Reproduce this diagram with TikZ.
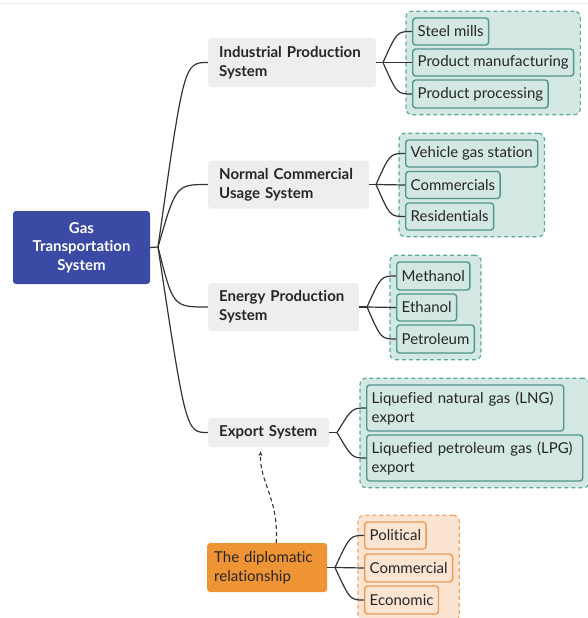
\documentclass[tikz,border=0pt]{standalone}
\usepackage{fontspec}
\setmainfont{Lato}[Ligatures=NoCommon]
\usetikzlibrary{fit,backgrounds,arrows.meta,calc}
\definecolor{rootblue}{HTML}{3B4BA5}
\definecolor{graybox}{HTML}{EEEEEE}
\definecolor{textdark}{HTML}{262626}
\definecolor{tealfill}{HTML}{D3E7E3}
\definecolor{tealline}{HTML}{4E978C}
\definecolor{tealdash}{HTML}{5BAA9E}
\definecolor{orfill}{HTML}{FCE4D2}
\definecolor{orline}{HTML}{EE9A52}
\definecolor{ordash}{HTML}{F0A468}
\definecolor{orbox}{HTML}{EE9434}
\definecolor{linec}{HTML}{333333}
\definecolor{topline}{HTML}{EDEDED}
\begin{document}
\begin{tikzpicture}[x=1pt,y=-1pt,
  rootbox/.style={fill=rootblue, rounded corners=3pt, text=white, align=center, inner xsep=5pt, inner ysep=0pt, font=\bfseries\fontsize{15}{18.5}\selectfont},
  mainbox/.style={fill=graybox, rounded corners=3pt, anchor=west, inner xsep=11pt, inner ysep=0pt, align=left, text=textdark, font=\bfseries\fontsize{15}{19}\selectfont},
  dipbox/.style={fill=orbox, rounded corners=3pt, anchor=west, inner xsep=7pt, inner ysep=0pt, align=left, text=textdark, font=\fontsize{15}{19}\selectfont},
  leaf/.style={draw=tealline, line width=1.4pt, fill=tealfill, rounded corners=3pt, anchor=west, inner xsep=5pt, inner ysep=0pt, align=left, text=textdark, font=\fontsize{15}{19}\selectfont},
  oleaf/.style={leaf, draw=orline, fill=orfill},
  tgroup/.style={draw=tealdash, fill=tealfill, line width=1.2pt, dash pattern=on 4pt off 3pt, rounded corners=6pt, inner sep=6pt},
  ogroup/.style={tgroup, draw=ordash, fill=orfill},
  conn/.style={draw=linec, line width=1.2pt},
  rel/.style={draw=linec, line width=1.1pt, dash pattern=on 4pt off 3pt, -{Stealth[length=5pt,width=4pt]}}
]
\useasboundingbox (0,0) rectangle (588,618);
\draw[topline, line width=1pt] (0,4) -- (588,4);

% main nodes
\node[rootbox, text width=127pt, minimum width=137pt, minimum height=73pt] (root) at (81.5,247.5) {Gas\\Transportation\\System};
\node[mainbox, text width=146pt, minimum height=49pt] (ind) at (208,62.5) {Industrial Production\\System};
\node[mainbox, text width=139pt, minimum height=48pt] (ncu) at (208,184.5) {Normal Commercial\\Usage System};
\node[mainbox, text width=129pt, minimum height=48pt] (ene) at (208,307) {Energy Production\\System};
\node[mainbox, text width=99pt, minimum height=29pt] (exp) at (208,432.5) {Export System};
\node[dipbox, text width=106pt, minimum height=49pt] (dip) at (207,567.5) {The diplomatic\\relationship};

% leaves
\node[leaf, minimum height=27pt] (steel) at (412,31.5) {Steel mills};
\node[leaf, minimum height=27pt] (pman) at (412,62.5) {Product manufacturing};
\node[leaf, minimum height=28pt] (pproc) at (412,94) {Product processing};

\node[leaf, minimum height=27pt] (vgs) at (405,153.5) {Vehicle gas station};
\node[leaf, minimum height=27pt] (comm) at (405,185) {Commercials};
\node[leaf, minimum height=27pt] (resi) at (405,216.5) {Residentials};

\node[leaf, minimum height=28pt] (meth) at (396,276) {Methanol};
\node[leaf, minimum height=27pt] (eth) at (396,307.5) {Ethanol};
\node[leaf, minimum height=28pt] (petr) at (396,339) {Petroleum};

\node[leaf, text width=187pt, minimum height=46pt] (lng) at (366,408) {Liquefied natural gas (LNG)\\export};
\node[leaf, text width=206pt, minimum height=46pt] (lpg) at (366,458) {Liquefied petroleum gas (LPG)\\export};

\node[oleaf, minimum height=27pt] (pol) at (364,535.5) {Political};
\node[oleaf, minimum height=28pt] (com2) at (364,568) {Commercial};
\node[oleaf, minimum height=28pt] (eco) at (364,600) {Economic};

% groups
\begin{pgfonlayer}{background}
\node[tgroup, fit=(steel)(pman)(pproc)] (g1) {};
\node[tgroup, fit=(vgs)(comm)(resi)] (g2) {};
\node[tgroup, fit=(meth)(eth)(petr)] (g3) {};
\node[tgroup, fit=(lng)(lpg)] (g4) {};
\node[ogroup, fit=(pol)(com2)(eco)] (g5) {};
\end{pgfonlayer}

% root branches
\coordinate (jr) at (158,247);
\draw[conn] (root.east) -- (jr);
\draw[conn] (jr) .. controls (184,62.5) and (184,62.5) .. (ind.west);
\draw[conn] (jr) .. controls (176,184.5) and (176,184.5) .. (ncu.west);
\draw[conn] (jr) .. controls (173,307) and (173,307) .. (ene.west);
\draw[conn] (jr) .. controls (186,432.5) and (186,432.5) .. (exp.west);

% industrial
\coordinate (ji) at (383,62.5);
\draw[conn] (ind.east) -- (ji);
\draw[conn] (ji) .. controls (397,31.5) and (397,31.5) .. (steel.west);
\draw[conn] (ji) -- (pman.west);
\draw[conn] (ji) .. controls (397,94) and (397,94) .. (pproc.west);

% normal commercial
\coordinate (jn) at (376,184.5);
\draw[conn] (ncu.east) -- (jn);
\draw[conn] (jn) .. controls (390,153.5) and (390,153.5) .. (vgs.west);
\draw[conn] (jn) -- (comm.west);
\draw[conn] (jn) .. controls (390,216.5) and (390,216.5) .. (resi.west);

% energy
\coordinate (je) at (367,307);
\draw[conn] (ene.east) -- (je);
\draw[conn] (je) .. controls (381,276) and (381,276) .. (meth.west);
\draw[conn] (je) -- (eth.west);
\draw[conn] (je) .. controls (381,339) and (381,339) .. (petr.west);

% export
\coordinate (jx) at (337,432.5);
\draw[conn] (exp.east) -- (jx);
\draw[conn] (jx) .. controls (352,408) and (352,408) .. (lng.west);
\draw[conn] (jx) .. controls (352,458) and (352,458) .. (lpg.west);

% diplomatic
\coordinate (jd) at (335,567.5);
\draw[conn] (dip.east) -- (jd);
\draw[conn] (jd) .. controls (350,535.5) and (350,535.5) .. (pol.west);
\draw[conn] (jd) -- (com2.west);
\draw[conn] (jd) .. controls (350,600) and (350,600) .. (eco.west);

% relation arrow
\draw[rel] ($(dip.north)+(9,0)$) .. controls (279,498) and (259,482) .. ($(exp.south)+(-8,4)$);
\end{tikzpicture}
\end{document}
